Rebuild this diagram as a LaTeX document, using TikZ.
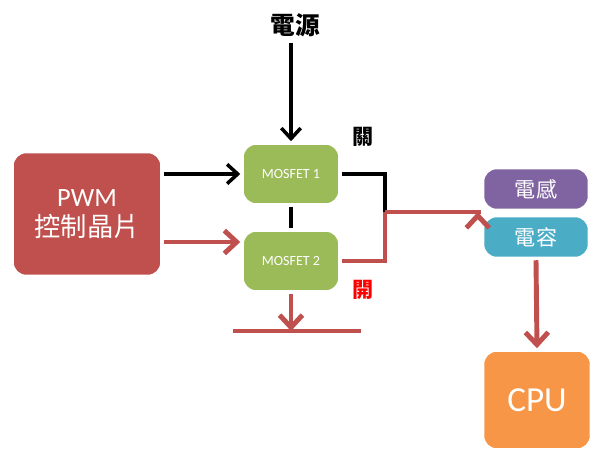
\documentclass[tikz,border=0pt]{standalone}
\usepackage{fontspec}
\setmainfont{Carlito}
\newfontfamily\cjk{Noto Sans CJK TC}
\usetikzlibrary{arrows.meta}
\definecolor{cred}{HTML}{C0504D}
\definecolor{cgreen}{HTML}{9BBB59}
\definecolor{cpurple}{HTML}{8064A2}
\definecolor{cteal}{HTML}{4BACC6}
\definecolor{corange}{HTML}{F79646}
\begin{document}
\begin{tikzpicture}[x=0.02cm,y=-0.02cm,
  box/.style={draw=white,line width=2pt,rounded corners=8pt,text=white,align=center,inner sep=0pt,drop shadow/.style={}},
  blk/.style={line width=2pt,black},
  rd/.style={line width=2.8pt,cred},
  tip/.style={-{Straight Barb[length=7pt,width=13pt,line width=2.8pt]}},
  btip/.style={-{Straight Barb[length=6pt,width=11pt,line width=2pt]}}]
\useasboundingbox (0,0) rectangle (604,465);
\node[box,fill=cred,minimum width=150\pgflinewidth,font=\fontsize{15}{17}\selectfont] (pwm) at (87,214) [minimum width=3cm,minimum height=2.5cm] {PWM\\{\cjk 控制晶片}};
\node[box,fill=cgreen,minimum width=1.96cm,minimum height=1.24cm,font=\fontsize{8}{10}\selectfont] (m1) at (291,174) {MOSFET 1};
\node[box,fill=cgreen,minimum width=1.96cm,minimum height=1.24cm,font=\fontsize{8}{10}\selectfont] (m2) at (291,261) {MOSFET 2};
\node[box,fill=cpurple,minimum width=2.14cm,minimum height=0.86cm,font=\cjk\fontsize{12}{14}\selectfont] (l) at (536,189) {電感};
\node[box,fill=cteal,minimum width=2.14cm,minimum height=0.86cm,font=\cjk\fontsize{12}{14}\selectfont] (c) at (536,237) {電容};
\node[box,fill=corange,minimum width=2.18cm,minimum height=2cm,font=\fontsize{20}{22}\selectfont] (cpu) at (537,400) {CPU};
\node[font=\cjk\bfseries\fontsize{14}{16}\selectfont] (pw) at (295,25) {電源};
\node[font=\cjk\bfseries\fontsize{12}{14}\selectfont] (off) at (363,137) {關};
\node[font=\cjk\bfseries\fontsize{12}{14}\selectfont,text=red] (on) at (363,290) {開};
\coordinate (j) at (385,212);
\coordinate (g) at (291,331);
\draw[blk,btip] (pw.south -| m1.north) -- (m1.north);
\draw[blk,btip] (pwm.east |- m1) -- (m1.west);
\draw[rd,tip] (pwm.east |- 0,242) -- (m2.west |- 0,242);
\draw[blk] (m1.south) -- (m2.north);
\draw[blk] (m1.east) -- (m1.east -| j) -- (j);
\draw[rd] (m2.east) -- (m2.east -| j) -- (j);
\draw[rd,tip] (j) -- (l.south west |- j) ++(-3,0);
\draw[rd,tip] (m2.south) -- (g);
\draw[rd] ([xshift=-33]g) -- ([xshift=40]g);
\draw[rd,tip] (c.south) -- (cpu.north);
\end{tikzpicture}
\end{document}
